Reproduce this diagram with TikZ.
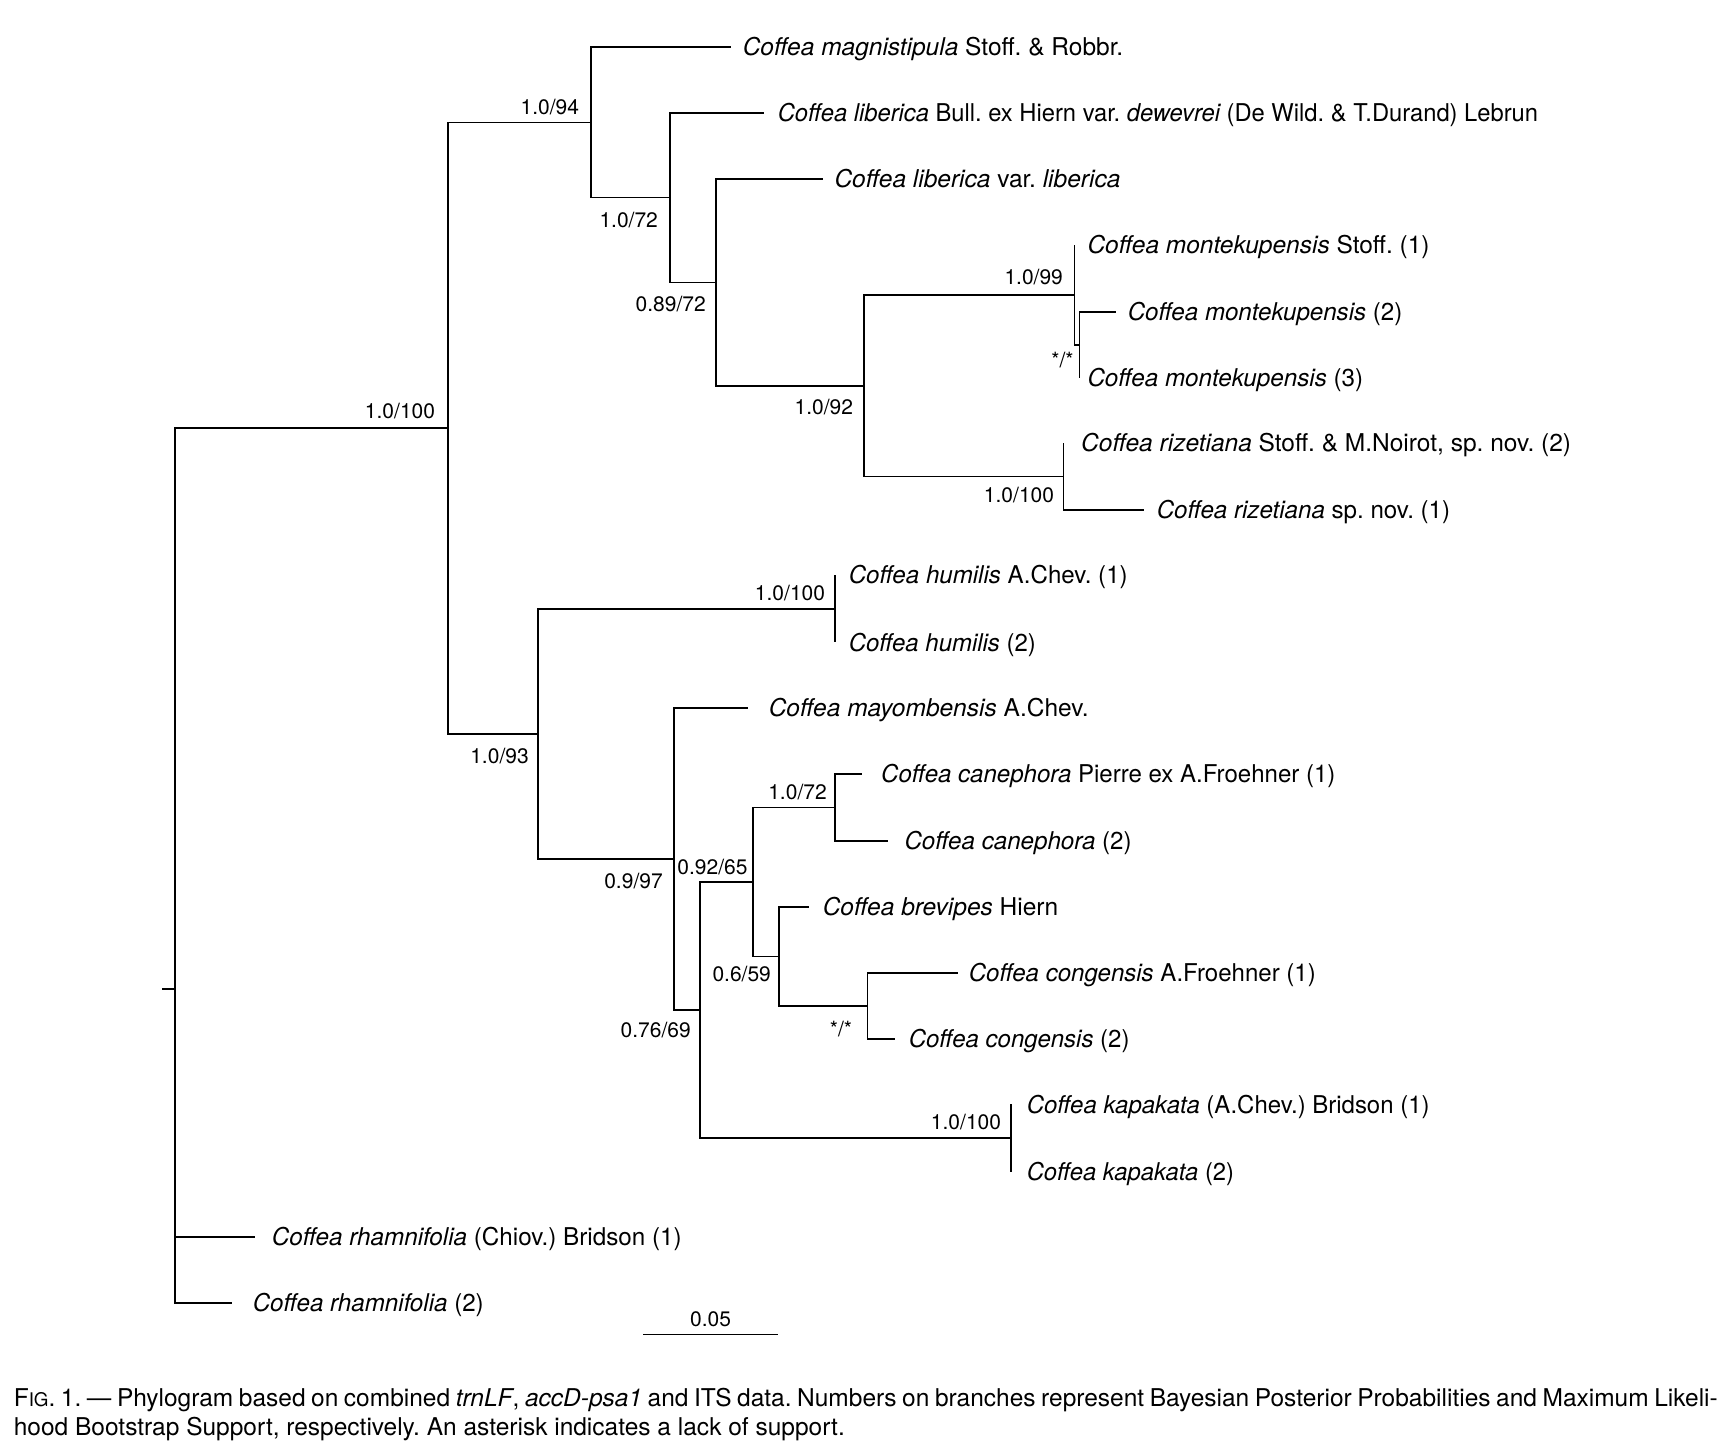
\documentclass[tikz,border=0pt]{standalone}
\usepackage{graphicx}
\usepackage{fontspec}
\setmainfont{TeX Gyre Heros}
\frenchspacing
\newcommand{\spn}[1]{{\itshape #1}}
\newcommand{\sqz}[2]{\scalebox{#1}[1]{#2}}
\begin{document}
\begin{tikzpicture}[x=0.5pt,y=-0.5pt,line width=0.8pt,
  taxon/.style={anchor=base west,inner sep=0pt,font=\fontsize{12.25}{14}\selectfont},
  supp/.style={anchor=center,inner sep=0pt,text height=7.4pt,text depth=0pt,font=\fontsize{10.5}{12}\selectfont},
  branch/.style={draw=black,line join=miter}]
\useasboundingbox (0,0) rectangle (1730,1453);
% internal nodes
\coordinate (cRs) at (162,989.1);
\coordinate (nR) at (175,989.1);
\coordinate (nA) at (447.7,428);
\coordinate (nB) at (590.7,122.3);
\coordinate (nC) at (670,197.6);
\coordinate (nD) at (715.7,282.5);
\coordinate (nE) at (863.7,385.7);
\coordinate (nF) at (1074.3,295);
\coordinate (nG) at (1079.3,345);
\coordinate (nH) at (1063.3,476.5);
\coordinate (nI) at (537.7,733.8);
\coordinate (nJ) at (835,608.7);
\coordinate (nK) at (673.8,858.8);
\coordinate (nL) at (699.7,1010);
\coordinate (nM) at (753,881.9);
\coordinate (nN) at (835,807.4);
\coordinate (nO) at (778.7,956.3);
\coordinate (nP) at (867.5,1005.9);
\coordinate (nQ) at (1011,1138);
% tips
\coordinate (tMag) at (730.7,47);
\coordinate (tDew) at (764.3,112.7);
\coordinate (tLib) at (822.7,179);
\coordinate (tMo1) at (1074.3,245);
\coordinate (tMo2) at (1116,311.7);
\coordinate (tMo3) at (1079.3,378);
\coordinate (tRi2) at (1063.3,443);
\coordinate (tRi1) at (1144,510);
\coordinate (tHu1) at (835,575);
\coordinate (tHu2) at (835,642.3);
\coordinate (tMay) at (747.7,707.7);
\coordinate (tCa1) at (861.7,773.7);
\coordinate (tCa2) at (887.7,841);
\coordinate (tBre) at (809.3,906.7);
\coordinate (tCo1) at (957.7,972.7);
\coordinate (tCo2) at (895,1039);
\coordinate (tKa1) at (1011,1104.3);
\coordinate (tKa2) at (1011,1171.7);
\coordinate (tRh1) at (255,1236.7);
\coordinate (tRh2) at (231.7,1302.7);
% branches
\draw[branch] (cRs) -- (nR);
\draw[branch] (nR) |- (nA);
\draw[branch] (nR) |- (tRh1);
\draw[branch] (nR) |- (tRh2);
\draw[branch] (nA) |- (nB);
\draw[branch] (nA) |- (nI);
\draw[branch] (nB) |- (tMag);
\draw[branch] (nB) |- (nC);
\draw[branch] (nC) |- (tDew);
\draw[branch] (nC) |- (nD);
\draw[branch] (nD) |- (tLib);
\draw[branch] (nD) |- (nE);
\draw[branch] (nE) |- (nF);
\draw[branch] (nE) |- (nH);
\draw[branch] (nF) |- (tMo1);
\draw[branch] (nF) |- (nG);
\draw[branch] (nG) |- (tMo2);
\draw[branch] (nG) |- (tMo3);
\draw[branch] (nH) |- (tRi2);
\draw[branch] (nH) |- (tRi1);
\draw[branch] (nI) |- (nJ);
\draw[branch] (nI) |- (nK);
\draw[branch] (nJ) |- (tHu1);
\draw[branch] (nJ) |- (tHu2);
\draw[branch] (nK) |- (tMay);
\draw[branch] (nK) |- (nL);
\draw[branch] (nL) |- (nM);
\draw[branch] (nL) |- (nQ);
\draw[branch] (nM) |- (nN);
\draw[branch] (nM) |- (nO);
\draw[branch] (nN) |- (tCa1);
\draw[branch] (nN) |- (tCa2);
\draw[branch] (nO) |- (tBre);
\draw[branch] (nO) |- (nP);
\draw[branch] (nP) |- (tCo1);
\draw[branch] (nP) |- (tCo2);
\draw[branch] (nQ) |- (tKa1);
\draw[branch] (nQ) |- (tKa2);
% taxon labels
\node[taxon] (lMag) at (742,55.8) {\spn{Coffea magnistipula} Stoff. \& Robbr.};
\node[taxon] (lDew) at (777,121.5) {\sqz{0.969}{\spn{Coffea liberica} Bull. ex Hiern var. \spn{dewevrei} (De Wild. \& T.Durand) Lebrun}};
\node[taxon] (lLib) at (833.7,187.8) {\spn{Coffea liberica} var. \spn{liberica}};
\node[taxon] (lMo1) at (1086.7,253.8) {\spn{Coffea montekupensis} Stoff. (1)};
\node[taxon] (lMo2) at (1127,320.5) {\sqz{0.984}{\spn{Coffea montekupensis} (2)}};
\node[taxon] (lMo3) at (1086.7,386.8) {\sqz{0.988}{\spn{Coffea montekupensis} (3)}};
\node[taxon] (lRi2) at (1080.4,451.8) {\spn{Coffea rizetiana} Stoff. \& M.Noirot, sp. nov. (2)};
\node[taxon] (lRi1) at (1156,518.8) {\sqz{0.985}{\spn{Coffea rizetiana} sp. nov. (1)}};
\node[taxon] (lHu1) at (848,583.8) {\sqz{0.984}{\spn{Coffea humilis} A.Chev. (1)}};
\node[taxon] (lHu2) at (848,651.1) {\sqz{0.977}{\spn{Coffea humilis} (2)}};
\node[taxon] (lMay) at (768,716.5) {\spn{Coffea mayombensis} A.Chev.};
\node[taxon] (lCa1) at (880.4,782.5) {\sqz{0.981}{\spn{Coffea canephora} Pierre ex A.Froehner (1)}};
\node[taxon] (lCa2) at (903.7,849.8) {\sqz{0.985}{\spn{Coffea canephora} (2)}};
\node[taxon] (lBre) at (822,915.5) {\spn{Coffea brevipes} Hiern};
\node[taxon] (lCo1) at (968,981.5) {\sqz{0.981}{\spn{Coffea congensis} A.Froehner (1)}};
\node[taxon] (lCo2) at (908,1047.8) {\sqz{0.98}{\spn{Coffea congensis} (2)}};
\node[taxon] (lKa1) at (1026,1113.1) {\sqz{0.978}{\spn{Coffea kapakata} (A.Chev.) Bridson (1)}};
\node[taxon] (lKa2) at (1026,1180.5) {\sqz{0.97}{\spn{Coffea kapakata} (2)}};
\node[taxon] (lRh1) at (271,1245.5) {\sqz{0.989}{\spn{Coffea rhamnifolia} (Chiov.) Bridson (1)}};
\node[taxon] (lRh2) at (252,1311.5) {\sqz{0.986}{\spn{Coffea rhamnifolia} (2)}};
% support values
\node[supp] (sA) at (400,410.7) {1.0/100};
\node[supp] (sB) at (549.8,107.3) {1.0/94};
\node[supp] (sC) at (628.7,220) {1.0/72};
\node[supp] (sD) at (670.7,304) {0.89/72};
\node[supp] (sE) at (823.8,407.3) {1.0/92};
\node[supp] (sF) at (1033.7,276.7) {1.0/99};
\node[supp] (sG) at (1062.5,360) {*/*};
\node[supp] (sH) at (1019,495) {1.0/100};
\node[supp] (sI) at (499.5,756) {1.0/93};
\node[supp] (sJ) at (790,593.3) {1.0/100};
\node[supp] (sK) at (633.5,881) {0.9/97};
\node[supp] (sM) at (712.5,866.7) {0.92/65};
\node[supp] (sN) at (797.5,791.7) {1.0/72};
\node[supp] (sO) at (741.7,974) {0.6/59};
\node[supp] (sL) at (655.7,1030) {0.76/69};
\node[supp] (sP) at (841,1029) {*/*};
\node[supp] (sQ) at (966,1122.3) {1.0/100};
% scale bar
\coordinate (sb1) at (643.3,1334.3);
\coordinate (sb2) at (777.6,1334.3);
\draw[branch] (sb1) -- (sb2);
\node[supp] (sbl) at (710.5,1319.2) {0.05};
% caption
\node[anchor=base west,inner sep=0pt,font=\fontsize{12.25}{15}\selectfont] (cap1) at (13,1406.5)
  {\makebox[852pt][s]{F{\fontsize{9.4}{11}\selectfont IG}. 1. \textemdash\ Phylogram based on combined \spn{trnLF}, \spn{accD-psa1} and ITS data. Numbers on branches represent Bayesian Posterior Probabilities and Maximum Likeli-}};
\node[anchor=base west,inner sep=0pt,font=\fontsize{12.25}{15}\selectfont] (cap2) at (13,1435.5)
  {hood Bootstrap Support, respectively. An asterisk indicates a lack of support.};
\end{tikzpicture}
\end{document}
